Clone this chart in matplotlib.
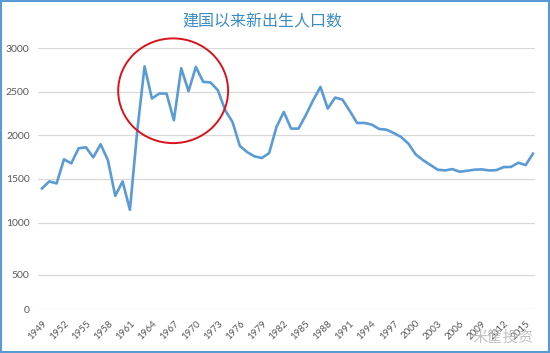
import numpy as np
import matplotlib
matplotlib.use('Agg')
import matplotlib.pyplot as plt
from matplotlib.patches import Ellipse, Rectangle

plt.rcParams['font.family'] = ['Lato', 'Noto Sans CJK SC', 'DejaVu Sans']

# Births per year (10k people)
years = list(range(1949, 2017))
births = [1391, 1471, 1448, 1724, 1678, 1851, 1862, 1747, 1897, 1713,
          1305, 1471, 1145, 2050, 2790, 2421, 2478, 2478, 2172, 2768,
          2505, 2784, 2612, 2605, 2516, 2287, 2152, 1878, 1807, 1758,
          1739, 1796, 2095, 2267, 2076, 2076, 2229, 2401, 2554, 2306,
          2432, 2409, 2279, 2141, 2141, 2122, 2072, 2064, 2026, 1980,
          1904, 1780, 1715, 1660, 1605, 1597, 1612, 1582, 1593, 1605,
          1609, 1597, 1600, 1635, 1637, 1685, 1658, 1789]
tick_years = list(range(1949, 2016, 3))
title = '建国以来新出生人口数'

# the source chart's y axis is uneven below 1000
knots_v = [-1000, 0, 500, 1000, 3000, 10000]
knots_p = [-87.15, 0, 34.4, 86.4, 260.7, 870.75]

def fwd(v):
    return np.interp(v, knots_v, knots_p)

def inv(p):
    return np.interp(p, knots_p, knots_v)

fig = plt.figure(figsize=(5.5, 3.53), dpi=100)
ax = fig.add_axes([0.069, 0.1246, 0.904, 0.7394])
ax.set_yscale('function', functions=(fwd, inv))

ax.plot(years, births, color='#5B9BD5', linewidth=1.9, solid_joinstyle='round')

# red circle highlighting the baby boom years
ax.add_patch(Ellipse((1966.9, 2510), 15.0, 1200, fill=False, clip_on=False,
                     edgecolor='#D9121B', linewidth=1.4, zorder=3))

ax.set_ylim(0, 3000)
ax.set_xlim(1948.45, 2016.3)
ax.set_yticks(range(0, 3001, 500))
ax.set_yticklabels([str(v) for v in range(0, 3001, 500)])
ax.minorticks_off()
ax.set_xticks(tick_years)
ax.set_xticklabels([str(y) for y in tick_years], rotation=45, ha='right',
                   va='top', rotation_mode='anchor', fontsize=7, color='#595959')
ax.tick_params(axis='y', labelsize=7.5, labelcolor='#595959', length=0, pad=6)
ax.tick_params(axis='x', length=0, pad=7)
ax.grid(axis='y', color='#D9D9D9', linewidth=0.9)
ax.set_axisbelow(True)
for s in ax.spines.values():
    s.set_visible(False)

fig.text(0.478, 0.937, title, ha='center', va='center', fontsize=11.5,
         color='#3A8CC4', family=['Noto Sans CJK SC', 'DejaVu Sans'])

# watermark
fig.text(0.97, 0.045, '米筐投资', ha='right', va='center', fontsize=11,
         color='#BBBBBB', alpha=0.9, family=['Noto Sans CJK SC', 'DejaVu Sans'])

# blue frame around the picture
fig.patches.append(Rectangle((0.002, 0.003), 0.996, 0.994, transform=fig.transFigure,
                             fill=False, edgecolor='#5B9BD5', linewidth=1.5))

fig.savefig('out.png', dpi=100)
